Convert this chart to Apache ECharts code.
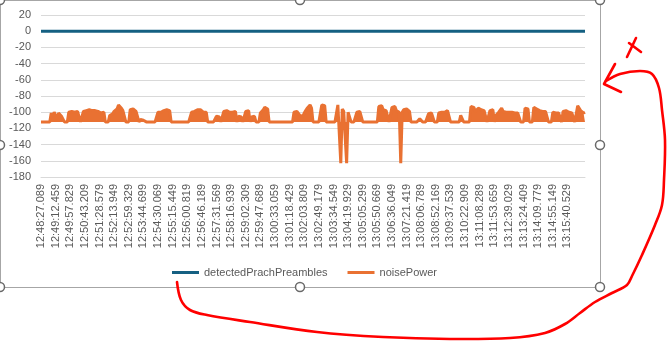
<!DOCTYPE html>
<html>
<head>
<meta charset="utf-8">
<script src="https://cdn.jsdelivr.net/npm/echarts@6/dist/echarts.min.js"></script>
<style>
html,body{margin:0;padding:0;background:#fff;}
#c{width:667px;height:341px;}
</style>
</head>
<body>
<div id="c"></div>
<script>
// Tick labels shown on the category axis (one every 10 samples)
const tickLabels = [
  "12:48:27.089","12:49:12.459","12:49:57.829","12:50:43.209","12:51:28.579","12:52:13.949",
  "12:52:59.329","12:53:44.699","12:54:30.069","12:55:15.449","12:56:00.819","12:56:46.189",
  "12:57:31.569","12:58:16.939","12:59:02.309","12:59:47.689","13:00:33.059","13:01:18.429",
  "13:02:03.809","13:02:49.179","13:03:34.549","13:04:19.929","13:05:05.299","13:05:50.669",
  "13:06:36.049","13:07:21.419","13:08:06.789","13:08:52.169","13:09:37.539","13:10:22.909",
  "13:11:08.289","13:11:53.659","13:12:39.029","13:13:24.409","13:14:09.779","13:14:55.149",
  "13:15:40.529"
];
const labelEvery = 10;

const seriesNames = ["detectedPrachPreambles", "noisePower"];

const detectedPrachPreambles = [
  0,0,0,0,0,0,0,0,0,0,  0,0,0,0,0,0,0,0,0,0,
  0,0,0,0,0,0,0,0,0,0,  0,0,0,0,0,0,0,0,0,0,
  0,0,0,0,0,0,0,0,0,0,  0,0,0,0,0,0,0,0,0,0,
  0,0,0,0,0,0,0,0,0,0,  0,0,0,0,0,0,0,0,0,0,
  0,0,0,0,0,0,0,0,0,0,  0,0,0,0,0,0,0,0,0,0,
  0,0,0,0,0,0,0,0,0,0,  0,0,0,0,0,0,0,0,0,0,
  0,0,0,0,0,0,0,0,0,0,  0,0,0,0,0,0,0,0,0,0,
  0,0,0,0,0,0,0,0,0,0,  0,0,0,0,0,0,0,0,0,0,
  0,0,0,0,0,0,0,0,0,0,  0,0,0,0,0,0,0,0,0,0,
  0,0,0,0,0,0,0,0,0,0,  0,0,0,0,0,0,0,0,0,0,
  0,0,0,0,0,0,0,0,0,0,  0,0,0,0,0,0,0,0,0,0,
  0,0,0,0,0,0,0,0,0,0,  0,0,0,0,0,0,0,0,0,0,
  0,0,0,0,0,0,0,0,0,0,  0,0,0,0,0,0,0,0,0,0,
  0,0,0,0,0,0,0,0,0,0,  0,0,0,0,0,0,0,0,0,0,
  0,0,0,0,0,0,0,0,0,0,  0,0,0,0,0,0,0,0,0,0,
  0,0,0,0,0,0,0,0,0,0,  0,0,0,0,0,0,0,0,0,0,
  0,0,0,0,0,0,0,0,0,0,  0,0,0,0,0,0,0,0,0,0,
  0,0,0,0,0,0,0,0,0,0,  0,0,0,0,0,0,0,0,0,0,
  0,0,0,0,0,0,0,0,0,0,  0,0,0
];

const noisePower = [
  -112,-112,-112,-112,-112,-112,-112,-101,-106,-100,
  -104,-108,-101,-103,-105,-104,-112,-112,-112,-100,
  -101,-99,-100,-100,-101,-99,-100,-112,-112,-99,
  -98,-98,-99,-97,-98,-98,-97,-98,-98,-99,
  -99,-101,-102,-100,-112,-112,-112,-104,-104,-102,
  -99,-98,-96,-91,-92,-95,-98,-100,-112,-112,
  -112,-97,-98,-96,-98,-99,-100,-112,-109,-110,
  -110,-112,-112,-112,-112,-112,-112,-112,-112,-112,
  -100,-101,-100,-99,-98,-97,-97,-97,-98,-112,
  -112,-112,-112,-112,-112,-112,-112,-112,-112,-112,
  -112,-112,-112,-100,-101,-99,-99,-97,-96,-97,
  -98,-100,-100,-100,-112,-112,-112,-112,-112,-112,
  -105,-106,-106,-112,-112,-99,-99,-98,-99,-100,
  -99,-100,-100,-99,-112,-105,-106,-106,-112,-112,
  -99,-100,-98,-112,-106,-106,-105,-112,-112,-112,
  -101,-100,-97,-94,-92,-96,-112,-112,-112,-112,
  -112,-110,-112,-112,-112,-112,-112,-112,-112,-112,
  -112,-112,-112,-100,-101,-99,-101,-104,-105,-105,
  -101,-98,-95,-93,-91,-95,-112,-112,-112,-112,
  -112,-112,-91,-92,-92,-112,-112,-112,-112,-112,
  -112,-112,-112,-91,-92,-163,-96,-99,-99,-163,
  -100,-101,-112,-112,-112,-112,-100,-101,-99,-101,
  -112,-112,-112,-112,-112,-112,-112,-112,-112,-112,
  -112,-93,-94,-92,-97,-98,-98,-96,-112,-112,
  -94,-95,-93,-98,-99,-100,-163,-100,-97,-98,
  -96,-98,-99,-112,-112,-112,-112,-112,-112,-108,
  -109,-112,-112,-112,-112,-102,-103,-101,-103,-112,
  -112,-112,-101,-101,-100,-99,-100,-99,-98,-100,
  -112,-112,-112,-112,-112,-112,-112,-104,-105,-112,
  -112,-112,-112,-112,-93,-95,-94,-99,-98,-95,
  -96,-97,-97,-98,-97,-112,-112,-98,-99,-97,
  -112,-104,-105,-100,-98,-95,-99,-100,-100,-98,
  -100,-101,-100,-101,-101,-102,-101,-101,-112,-112,
  -112,-95,-96,-96,-112,-112,-112,-94,-93,-96,
  -97,-98,-99,-99,-98,-99,-99,-112,-112,-112,
  -100,-101,-101,-100,-101,-100,-112,-99,-99,-98,
  -100,-100,-99,-101,-100,-112,-112,-92,-90,-98,
  -100,-101,-100
];
const noiseFloor = -112;

const categories = noisePower.map((_, i) => String(i));

const FONT = '"Liberation Sans", Arial, sans-serif';
const GREY = '#595959';

const chart = echarts.init(document.getElementById('c'), null, {renderer: 'canvas'});

// Excel-style selection handles and the red hand-drawn annotation
const handles = [[0,0],[300,0],[600,0],[0,145],[600,145],[0,287],[300,287],[600,287]].map(p => ({
  type: 'circle', shape: {cx: p[0], cy: p[1], r: 4.5}, z: 100,
  style: {fill: '#fff', stroke: '#6a6a6a', lineWidth: 1.5}
}));

const red = {stroke: '#ff0000', lineWidth: 2.6, fill: null, lineCap: 'round', lineJoin: 'round'};

chart.setOption({
  animation: false,
  backgroundColor: '#fff',
  textStyle: {fontFamily: FONT},
  grid: {left: 41, right: 82, top: 15, height: 162, containLabel: false},
  legend: {
    data: seriesNames,
    top: 262, left: 167,
    icon: 'rect', itemWidth: 27, itemHeight: 3, itemGap: 20,
    textStyle: {color: GREY, fontSize: 11, fontFamily: FONT}
  },
  xAxis: {
    type: 'category',
    data: categories,
    boundaryGap: false,
    axisLine: {onZero: false, lineStyle: {color: '#d9d9d9', width: 1}},
    axisTick: {show: false},
    splitLine: {show: false},
    axisLabel: {
      interval: labelEvery - 1,
      rotate: 90,
      margin: 7,
      color: GREY, fontSize: 11, fontFamily: FONT,
      formatter: (v, idx) => (idx % labelEvery === 0 ? (tickLabels[idx / labelEvery] || '') : '')
    }
  },
  yAxis: {
    type: 'value',
    min: -180, max: 20, interval: 20,
    axisLine: {show: false},
    axisTick: {show: false},
    splitLine: {lineStyle: {color: '#d9d9d9', width: 1}},
    axisLabel: {color: GREY, fontSize: 11, margin: 10, fontFamily: FONT}
  },
  series: [
    {
      name: seriesNames[0], type: 'line', data: detectedPrachPreambles,
      symbol: 'none', showSymbol: false, sampling: null,
      color: '#156082', lineStyle: {width: 3, color: '#156082'}, z: 3
    },
    {
      name: seriesNames[1], type: 'line', data: noisePower,
      symbol: 'none', showSymbol: false, sampling: null,
      color: '#E97132', lineStyle: {width: 3, color: '#E97132'},
      areaStyle: {origin: noiseFloor, color: '#E97132', opacity: 1},
      z: 4
    }
  ],
  graphic: [
    {type: 'rect', shape: {x: 0.5, y: 0.5, width: 600, height: 287}, z: 99,
     style: {fill: null, stroke: '#a6a6a6', lineWidth: 1}},
    ...handles,
    {type: 'polyline', z: 120, shape: {smooth: 0.35, points: [
      [606,81],[620,74],[640,71],[652,74],[659,88],[662,110],[665,140],[664,180],[662,205],
      [655,225],[642,255],[632,276],[627,285],[612,293],[595,302],[580,313],[565,324],
      [545,333],[510,338],[450,339],[383,337],[317,332],[250,322],[207,315],[190,310],
      [181,300],[177,282]
    ]}, style: red},
    {type: 'polyline', z: 120, shape: {points: [[615,64],[604,84],[621,92]]}, style: red},
    {type: 'polyline', z: 120, shape: {points: [[636,38],[627,57]]}, style: red},
    {type: 'polyline', z: 120, shape: {points: [[629,43],[641,52]]}, style: red}
  ]
});
</script>
</body>
</html>
